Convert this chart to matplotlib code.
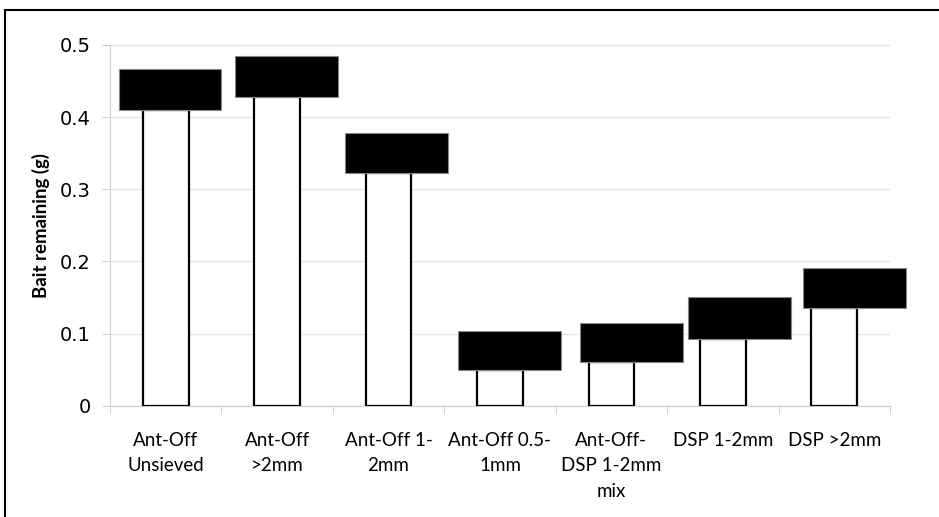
import matplotlib
matplotlib.use("Agg")
import matplotlib.pyplot as plt
from matplotlib.patches import Rectangle
import numpy as np

# bait remaining per treatment (bar top) and top of the black block
categories = ["Ant-Off\nUnsieved", "Ant-Off\n>2mm", "Ant-Off 1-\n2mm",
              "Ant-Off 0.5-\n1mm", "Ant-Off-\nDSP 1-2mm\nmix",
              "DSP 1-2mm", "DSP >2mm"]
means = [0.410, 0.428, 0.323, 0.050, 0.061, 0.093, 0.136]
upper = [0.467, 0.485, 0.378, 0.104, 0.115, 0.150, 0.191]

# horizontal placement of the black blocks (layout only)
block_shift = [-0.42, -0.375, -0.388, -0.373, -0.278, -0.31, -0.277]
block_width = 0.92

fig = plt.figure(figsize=(9.39, 5.17), dpi=100)
ax = fig.add_axes([0.1171, 0.2153, 0.8307, 0.6977])

x = np.arange(len(categories))
ax.bar(x, means, width=0.41, color="white", edgecolor="black",
       linewidth=1.6, zorder=3)
for xi, lo, hi, s in zip(x, means, upper, block_shift):
    ax.add_patch(Rectangle((xi + s, lo), block_width, hi - lo,
                           facecolor="black", edgecolor="#888888",
                           linewidth=0.8, zorder=4, clip_on=False))

ax.set_xlim(-0.5, len(categories) - 0.5)
ax.set_ylim(0, 0.5)
ax.set_yticks([0, 0.1, 0.2, 0.3, 0.4, 0.5])
ax.set_yticklabels(["0", "0.1", "0.2", "0.3", "0.4", "0.5"], fontsize=14)
ax.yaxis.grid(True, color="#e6e6e6", linewidth=1, zorder=0)
ax.set_axisbelow(True)

ax.set_xticks(x)
ax.set_xticklabels(categories, fontsize=13.5, family="Lato", linespacing=1.6)
ax.set_xticks(np.arange(-0.5, len(categories)), minor=True)
ax.tick_params(axis="x", which="major", length=0, pad=19)
ax.tick_params(axis="x", which="minor", length=6, color="#cccccc")
ax.tick_params(axis="y", length=6, color="#cccccc", pad=8)

for side in ["top", "right"]:
    ax.spines[side].set_visible(False)
for side in ["left", "bottom"]:
    ax.spines[side].set_color("#cccccc")

ax.set_ylabel("Bait remaining (g)", fontsize=13.4, fontweight="bold",
              family="Lato", labelpad=7)

# outer frame
fig.patches.append(Rectangle((5 / 939, -0.1), 1.2, 1 - 10 / 517 + 0.1,
                             transform=fig.transFigure, fill=False,
                             edgecolor="black", linewidth=1.5))

fig.savefig("out.png", dpi=100)
